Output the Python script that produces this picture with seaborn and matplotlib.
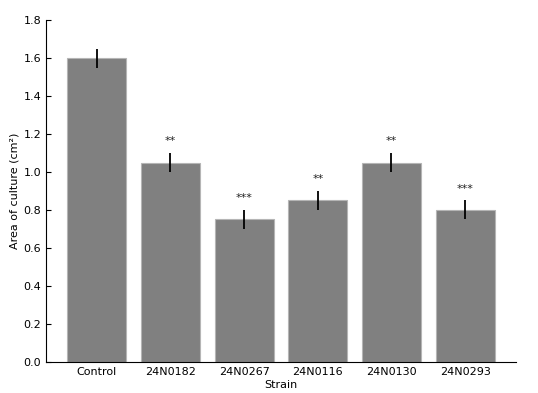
import matplotlib
matplotlib.use("Agg")
import matplotlib.pyplot as plt
import seaborn as sns
import pandas as pd

strains = ["Control", "24N0182", "24N0267", "24N0116", "24N0130", "24N0293"]
area = [1.60, 1.05, 0.75, 0.85, 1.05, 0.80]
err = [0.05, 0.05, 0.05, 0.05, 0.05, 0.05]
stars = ["", "**", "***", "**", "**", "***"]

df = pd.DataFrame({"Strain": strains, "Area": area})

sns.set_style("ticks")
plt.rcParams["font.family"] = ["DejaVu Sans"]
plt.rcParams["text.color"] = "black"
plt.rcParams["axes.labelcolor"] = "black"
plt.rcParams["xtick.color"] = "black"
plt.rcParams["ytick.color"] = "black"
plt.rcParams["axes.edgecolor"] = "black"

fig = plt.figure(figsize=(5.38, 3.93), dpi=100)
ax = fig.add_axes([0.0855, 0.079, 0.8735, 0.870])

sns.barplot(data=df, x="Strain", y="Area", color="#808080", saturation=1,
            edgecolor="#b5b5b5", linewidth=0.8, errorbar=None, width=0.8, ax=ax)
ax.errorbar(range(len(strains)), area, yerr=err, fmt="none", ecolor="black",
            elinewidth=1.3, capsize=0)

for i, (v, e, s) in enumerate(zip(area, err, stars)):
    if s:
        ax.text(i, v + e + 0.035, s, ha="center", va="bottom", fontsize=8, color="#222222")

ax.set_xlim(-0.69, 5.69)
ax.set_ylim(0, 1.8)
ax.set_yticks([0, 0.2, 0.4, 0.6, 0.8, 1.0, 1.2, 1.4, 1.6, 1.8])
ax.set_xlabel("Strain", fontsize=8, labelpad=2)
ax.set_ylabel("Area of culture (cm²)", fontsize=8, labelpad=3)
ax.tick_params(direction="in", labelsize=8, length=3.5)
sns.despine(ax=ax)

fig.savefig("out.png", dpi=100)
